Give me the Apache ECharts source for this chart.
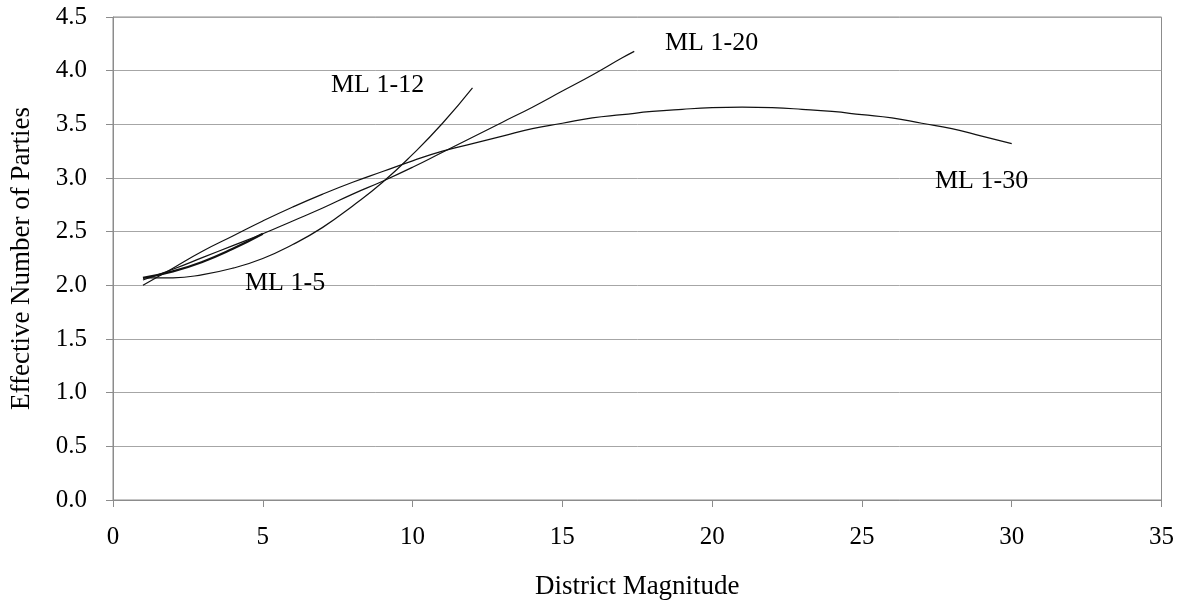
<!DOCTYPE html>
<html>
<head>
<meta charset="utf-8">
<script src="https://cdn.jsdelivr.net/npm/echarts@6/dist/echarts.min.js"></script>
<style>
html,body{margin:0;padding:0;background:#fff;}
#chart{width:1177px;height:606px;}
</style>
</head>
<body>
<div id="chart"></div>
<script>
// ---- data ----
const xTicks = [0, 5, 10, 15, 20, 25, 30, 35];
const yTicks = [0.0, 0.5, 1.0, 1.5, 2.0, 2.5, 3.0, 3.5, 4.0, 4.5];

const ml5X = [1, 2, 3, 4, 5];
const ml5Y = [2.07, 2.13, 2.22, 2.34, 2.48];

const ml12X = [1, 2, 3, 4, 5, 6, 7, 8, 9, 10, 11, 12];
const ml12Y = [2.07, 2.07, 2.10, 2.16, 2.25, 2.38, 2.54, 2.74, 2.96, 3.22, 3.51, 3.84];

const ml20X = [1, 2, 3, 4, 5, 6, 7, 8, 9, 10, 11, 12, 13, 14, 15, 16, 17, 17.4];
const ml20Y = [2.05, 2.15, 2.26, 2.37, 2.48, 2.60, 2.72, 2.85, 2.97, 3.10, 3.24, 3.38, 3.52, 3.66, 3.81, 3.96, 4.12, 4.18];

const ml30X = [1, 2, 3, 4, 5, 6, 7, 8, 9, 10, 11, 12, 13, 14, 15, 16, 17, 18, 19, 20, 21, 22, 23, 24, 25, 26, 27, 28, 29, 30];
const ml30Y = [2.00, 2.16, 2.32, 2.46, 2.60, 2.73, 2.85, 2.96, 3.06, 3.16, 3.25, 3.32, 3.39, 3.46, 3.51, 3.56, 3.59, 3.62, 3.64, 3.655, 3.66, 3.655, 3.64, 3.62, 3.59, 3.56, 3.51, 3.46, 3.39, 3.32];

const seriesNames = ['ML 1-5', 'ML 1-12', 'ML 1-20', 'ML 1-30'];
const xTitle = 'District Magnitude';
const yTitle = 'Effective Number of Parties';

// ---- chart ----
const zip = (xs, ys) => xs.map((x, i) => [x, ys[i]]);
const FONT = '"Liberation Serif", "Times New Roman", serif';

const chart = echarts.init(document.getElementById('chart'), null, {renderer: 'canvas'});

function lineSeries(name, xs, ys, width) {
  return {
    name: name,
    type: 'line',
    data: zip(xs, ys),
    smooth: true,
    symbol: 'none',
    lineStyle: {color: '#111', width: width},
    emphasis: {disabled: true},
    z: 5
  };
}

const option = {
  animation: false,
  backgroundColor: '#ffffff',
  grid: {left: 113, right: 15, top: 17, bottom: 106, show: true, borderColor: '#8c8c8c', borderWidth: 1},
  xAxis: {
    type: 'value',
    min: xTicks[0],
    max: xTicks[xTicks.length - 1],
    interval: xTicks[1] - xTicks[0],
    name: xTitle,
    nameLocation: 'middle',
    nameGap: 73,
    nameTextStyle: {fontFamily: FONT, fontSize: 27, color: '#000'},
    axisLine: {show: true, lineStyle: {color: '#8c8c8c', width: 1}},
    axisTick: {show: true, inside: false, length: 7, lineStyle: {color: '#8c8c8c'}},
    axisLabel: {fontFamily: FONT, fontSize: 25, color: '#000', margin: 25},
    splitLine: {show: false}
  },
  yAxis: {
    type: 'value',
    min: yTicks[0],
    max: yTicks[yTicks.length - 1],
    interval: yTicks[1] - yTicks[0],
    name: yTitle,
    nameLocation: 'middle',
    nameGap: 78,
    nameTextStyle: {fontFamily: FONT, fontSize: 27, color: '#000'},
    axisLine: {show: true, lineStyle: {color: '#8c8c8c', width: 1}},
    axisTick: {show: true, inside: false, length: 7, lineStyle: {color: '#8c8c8c'}},
    axisLabel: {fontFamily: FONT, fontSize: 25, color: '#000', margin: 26,
      formatter: v => v.toFixed(1)},
    splitLine: {show: true, lineStyle: {color: '#a6a6a6', width: 1}}
  },
  series: [
    lineSeries(seriesNames[3], ml30X, ml30Y, 1.2),
    lineSeries(seriesNames[2], ml20X, ml20Y, 1.2),
    lineSeries(seriesNames[1], ml12X, ml12Y, 1.2),
    lineSeries(seriesNames[0], ml5X, ml5Y, 2.2)
  ],
  graphic: [
    {type: 'text', x: 245, y: 283, z: 10, style: {text: seriesNames[0], font: '26px ' + FONT, fill: '#000', verticalAlign: 'middle', textAlign: 'left'}},
    {type: 'text', x: 331, y: 85, z: 10, style: {text: seriesNames[1], font: '26px ' + FONT, fill: '#000', verticalAlign: 'middle', textAlign: 'left'}},
    {type: 'text', x: 665, y: 43, z: 10, style: {text: seriesNames[2], font: '26px ' + FONT, fill: '#000', verticalAlign: 'middle', textAlign: 'left'}},
    {type: 'text', x: 935, y: 181, z: 10, style: {text: seriesNames[3], font: '26px ' + FONT, fill: '#000', verticalAlign: 'middle', textAlign: 'left'}}
  ]
};

chart.setOption(option);
</script>
</body>
</html>
